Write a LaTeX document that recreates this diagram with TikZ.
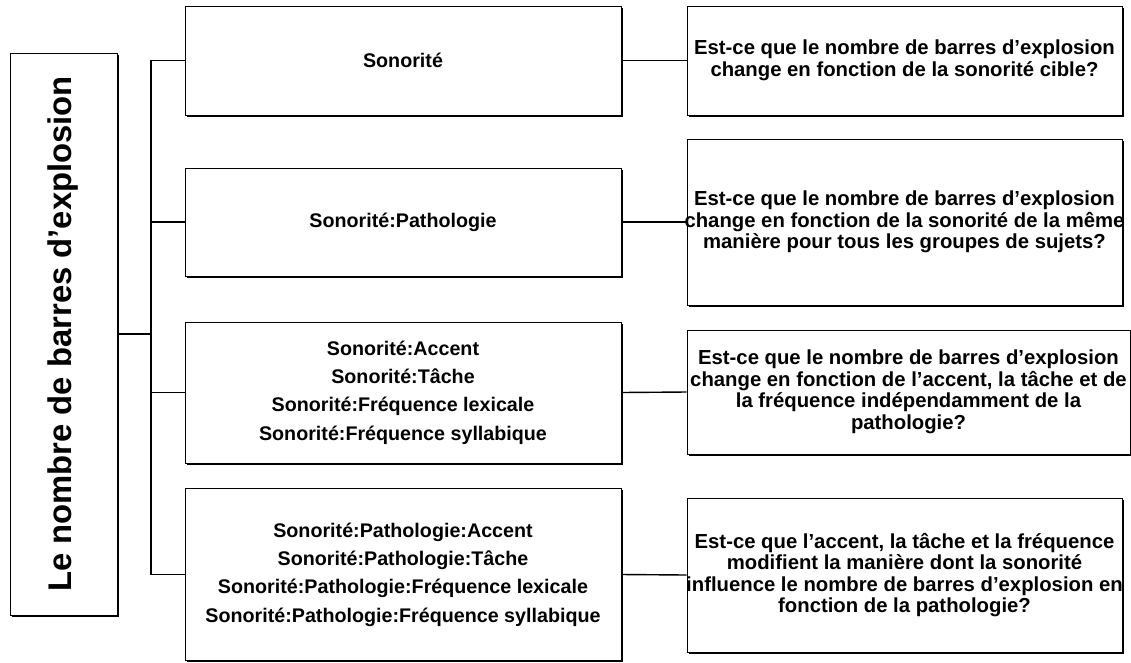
\documentclass[tikz,border=0pt]{standalone}
\usepackage{fontspec}
\setmainfont{Liberation Sans}
\usetikzlibrary{shadows}

\begin{document}
\begin{tikzpicture}[x=1pt,y=-1pt,
  box/.style={draw, fill=white, line width=0.8pt, align=center, inner sep=0pt,
    drop shadow={shadow xshift=1.6pt, shadow yshift=-1.6pt, fill=black, opacity=1}},
  midbox/.style={box, minimum width=436, font=\bfseries\fontsize{19.7}{28.3}\selectfont},
  qbox/.style={box, inner xsep=-5pt, minimum width=435, font=\bfseries\fontsize{20.3}{21.5}\selectfont},
  link/.style={line width=1.4pt}]
\useasboundingbox (0,0) rectangle (1131,662);
% root
\node[box, minimum width=107, minimum height=562, font=\bfseries\fontsize{32.8}{36}\selectfont]
  (root) at (63.5,334) {\rotatebox{90}{Le nombre de barres d’explosion}};
\coordinate (trunk) at (151,0);

% effects
\node[midbox, minimum height=109] (m1) at (403,60.5) {Sonorité};
\node[midbox, minimum height=108] (m2) at (403,222) {Sonorité:Pathologie};
\node[midbox, minimum height=141] (m3) at (403,392.5)
  {Sonorité:Accent\\Sonorité:Tâche\\Sonorité:Fréquence lexicale\\Sonorité:Fréquence syllabique};
\node[midbox, minimum height=172] (m4) at (403,574.5)
  {Sonorité:Pathologie:Accent\\Sonorité:Pathologie:Tâche\\Sonorité:Pathologie:Fréquence lexicale\\Sonorité:Pathologie:Fréquence syllabique};

% questions
\node[qbox, minimum height=109] (q1) at (904.5,60.5)
  {Est-ce que le nombre de barres d’explosion\\change en fonction de la sonorité cible?};
\node[qbox, minimum height=166] (q2) at (904.5,222)
  {Est-ce que le nombre de barres d’explosion\\change en fonction de la sonorité de la même\\manière pour tous les groupes de sujets?};
\node[qbox, minimum width=443, minimum height=124] (q3) at (908.5,392)
  {Est-ce que le nombre de barres d’explosion\\change en fonction de l’accent, la tâche et de\\la fréquence indépendamment de la\\pathologie?};
\node[qbox, minimum height=154] (q4) at (904.5,575)
  {Est-ce que l’accent, la tâche et la fréquence\\modifient la manière dont la sonorité\\influence le nombre de barres d’explosion en\\fonction de la pathologie?};

% tree
\draw[link] (root.east) -- (root.east -| trunk);
\draw[link] (m1.west) -- (m1.west -| trunk) -- (m4.west -| trunk) -- (m4.west);
\draw[link] (m2.west) -- (m2.west -| trunk);
\draw[link] (m3.west) -- (m3.west -| trunk);
\draw[link] (m1.east) -- (q1.west);
\draw[link] (m2.east) -- (q2.west);
\draw[link] (m3.east) -- (q3.west);
\draw[link] (m4.east) -- (q4.west);
\end{tikzpicture}
\end{document}
